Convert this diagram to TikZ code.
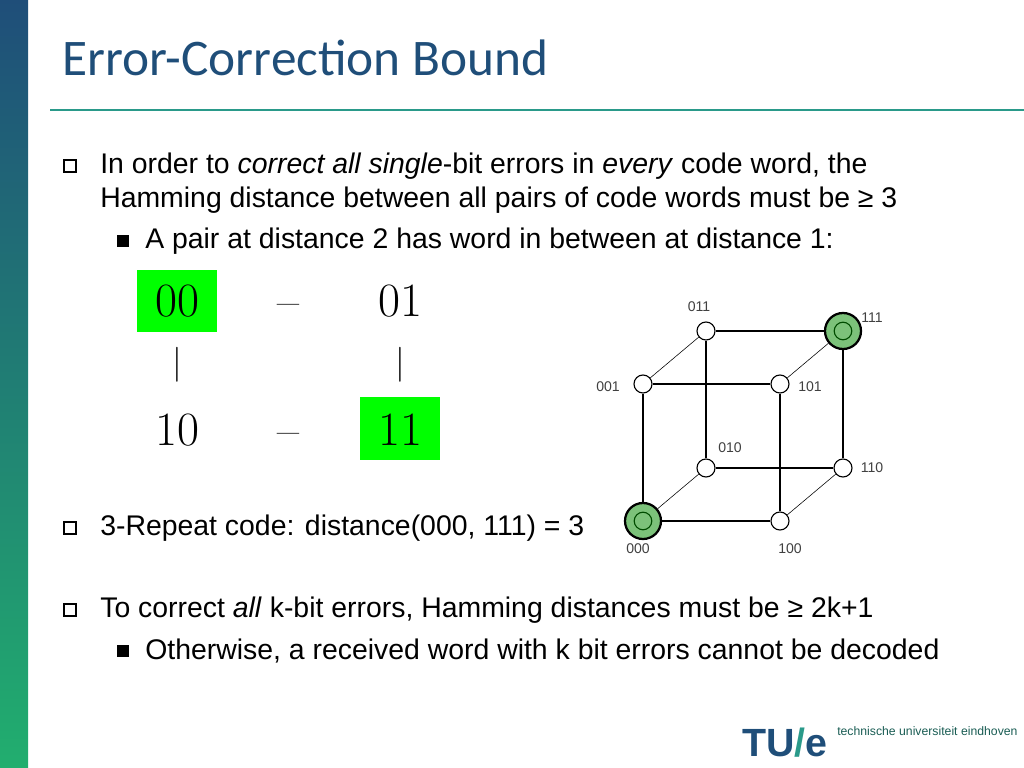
\documentclass[tikz,border=0pt]{standalone}
\usepackage{fontspec}
\setmainfont{Liberation Sans}
\newfontfamily\titlefont{Carlito}
\newfontfamily\mathsfont{Latin Modern Roman}
\definecolor{tueblue}{HTML}{1F4E79}
\definecolor{tueteal}{HTML}{2A9A8A}
\definecolor{cubegreen}{HTML}{7CC27A}
\definecolor{boxgreen}{HTML}{00FF00}
\begin{document}
\begin{tikzpicture}[x=0.025cm,y=-0.025cm,
    txt/.style={anchor=west,inner sep=0pt,font=\fontsize{20.2}{24}\selectfont},
    big/.style={inner sep=0pt,font=\mathsfont\fontsize{34}{36}\selectfont},
    vtx/.style={circle,draw,thick,fill=white,minimum size=0.45cm,inner sep=0pt},
    gvtx/.style={circle,draw,line width=1.6pt,fill=cubegreen,minimum size=0.9cm,inner sep=0pt},
    lbl/.style={inner sep=0pt,font=\fontsize{10}{11}\selectfont,text=black!75}]
  \useasboundingbox (0,0) rectangle (1024,768);
  % side bar and title
  \shade[top color=tueblue,bottom color=tueteal!80!green] (0,0) rectangle (28,768);
  \node[anchor=west,inner sep=0pt,text=tueblue,font=\titlefont\fontsize{36.5}{40}\selectfont] (title) at (62,58) {Error-Correc\kern0pt tion Bound};
  \draw[tueteal,line width=2pt] (50,110) -- (1024,110);
  % bullets
  \foreach \y in {166,528,610}
    \draw[line width=1.3pt] (64,\y-6) rectangle (76,\y+6);
  \foreach \y in {241,651}
    \fill (117,\y-6) rectangle (129,\y+6);
  \node[txt] (l1) at (100,166) {In order to \textit{correct all single}-bit errors in \textit{every} code word, the};
  \node[txt] (l2) at (100,200) {Hamming distance between all pairs of code words must be ≥ 3};
  \node[txt] (l3) at (145,241) {A pair at distance 2 has word in between at distance 1:};
  \node[txt] (l4) at (100,528) {3-Repeat code: distance(000, 111) = 3};
  \node[txt] (l5) at (100,610) {To correct \textit{all} k-bit errors, Hamming distances must be ≥ 2k+1};
  \node[txt] (l6) at (145,651) {Otherwise, a received word with k bit errors cannot be decoded};
  % square of words
  \fill[boxgreen] (137,270) rectangle (217,332);
  \fill[boxgreen] (360,397) rectangle (440,460);
  \node[big] (w00) at (177,301) {00};
  \node[big] (w01) at (400,301) {01};
  \node[big] (w10) at (177,430) {10};
  \node[big] (w11) at (400,430) {11};
  \node[big] (d1) at (288,311) {–};
  \node[big] (d2) at (288,440) {–};
  \node[big] (v1) at (177,365) {$|$};
  \node[big] (v2) at (400,365) {$|$};
  % cube
  \node[gvtx] (c000) at (643,521) {};
  \node[vtx] (c100) at (780,521) {};
  \node[vtx] (c010) at (706,468) {};
  \node[vtx] (c110) at (843,468) {};
  \node[vtx] (c001) at (643,384) {};
  \node[vtx] (c101) at (780,384) {};
  \node[vtx] (c011) at (706,331) {};
  \node[gvtx] (c111) at (843,331) {};
  \draw[green!30!black,thick] (c000) circle (0.22cm) (c111) circle (0.22cm);
  \draw[thick] (c000) -- (c100) (c000) -- (c001) (c001) -- (c101) (c100) -- (c101)
    (c010) -- (c110) (c010) -- (c011) (c011) -- (c111) (c110) -- (c111);
  \draw (c000) -- (c010) (c100) -- (c110) (c001) -- (c011) (c101) -- (c111);
  \node[lbl] at (699,307) {011};
  \node[lbl] at (872,318) {111};
  \node[lbl] at (608,387) {001};
  \node[lbl] at (810,387) {101};
  \node[lbl] at (730,448) {010};
  \node[lbl] at (872,468) {110};
  \node[lbl] at (638,549) {000};
  \node[lbl] at (790,549) {100};
  % logo
  \node[anchor=west,inner sep=0pt,font=\bfseries\fontsize{28}{30}\selectfont,text=tueblue] (logo) at (742,743)
    {TU\textcolor{tueteal}{/}e};
  \node[anchor=west,inner sep=0pt,font=\fontsize{8.7}{9}\selectfont,text=tueteal!60!black] (uni) at (837,731)
    {technische universiteit eindhoven};
\end{tikzpicture}
\end{document}
